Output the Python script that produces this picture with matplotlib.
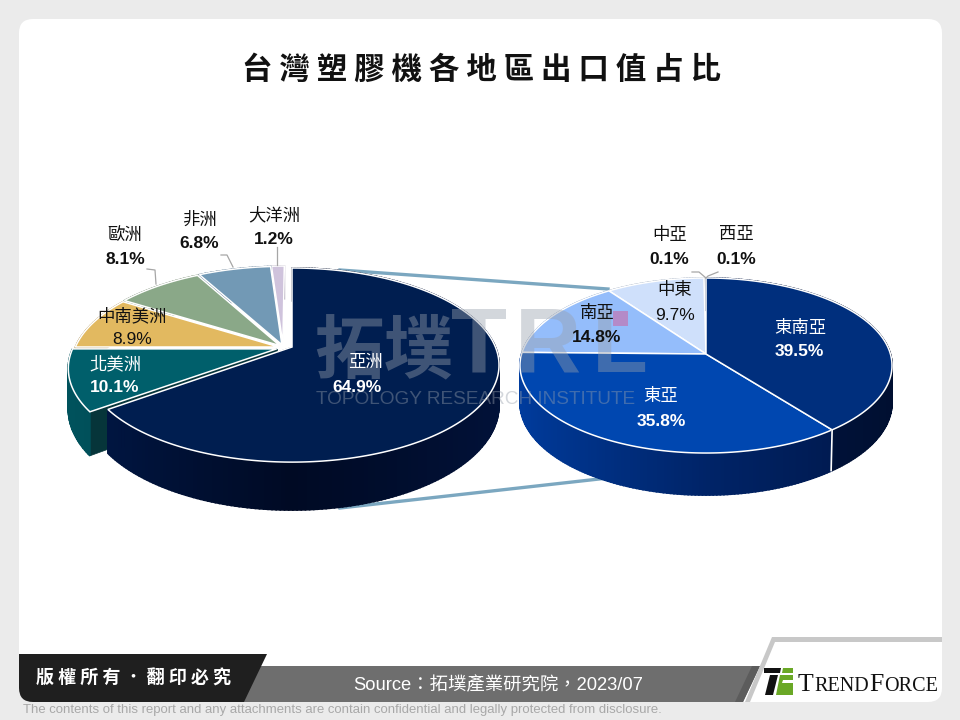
import matplotlib
matplotlib.use("Agg")
import matplotlib.pyplot as plt
import numpy as np
from matplotlib.patches import FancyBboxPatch, Polygon, Rectangle

CJK = ['Noto Sans CJK TC', 'Liberation Sans', 'DejaVu Sans']
LATIN = ['Liberation Sans', 'Noto Sans CJK TC']

title = '台 灣 塑 膠 機 各 地 區 出 口 值 占 比'

left_labels = ['亞洲', '北美洲', '中南美洲', '歐洲', '非洲', '大洋洲']
left_values = [64.9, 10.1, 8.9, 8.1, 6.8, 1.2]
right_labels = ['東南亞', '東亞', '南亞', '中東', '中亞', '西亞']
right_values = [39.5, 35.8, 14.8, 9.7, 0.1, 0.1]

left_colors = ['#001e50', '#005f6b', '#e2b960', '#8aa888', '#7299b5', '#cfc3dc']
left_walls = [('#001848', '#000a24', '#01123a'), ('#00525c', '#00414a', '#00363d'),
              ('#a88a48',) * 3, ('#64795f',) * 3, ('#52708a',) * 3, ('#9c92a8',) * 3]
right_colors = ['#002f7d', '#0047b0', '#94bdfb', '#cfe0fb', '#cfe0fb', '#cfe0fb']
right_walls = [('#00235e', '#001645', '#000f30'), ('#003c9e', '#002468', '#001544'),
               ('#6f8ebc',) * 3, ('#9aa8bc',) * 3, ('#9aa8bc',) * 3, ('#9aa8bc',) * 3]

# slice shifts on the unit disc, only the left pie is pulled apart
left_shift = [(0, 0), (-0.075, -0.02), (-0.065, 0.0), (-0.06, 0.015), (-0.05, 0.025), (-0.045, 0.03)]
right_shift = [(0, 0)] * 6

fig = plt.figure(figsize=(9.6, 7.2), dpi=100, facecolor='#ebebeb')
ax = fig.add_axes([0, 0, 1, 1])
ax.set_xlim(0, 960)
ax.set_ylim(720, 0)
ax.axis('off')


def project(x, y, pie):
    s = 1 / (1 + pie['k'] * y)
    return pie['cx'] + pie['R'] * x * s, pie['cy'] - pie['Ry'] * y * s, s


def shade(cols, x):
    rgb = np.array([matplotlib.colors.to_rgb(c) for c in cols])
    return [np.interp(x, [-1, 0, 1], rgb[:, i]) for i in range(3)]


def draw_pie(values, colors, walls, shift, pie, cut_slices):
    fr = np.cumsum([0] + values) / sum(values) * 2 * np.pi
    for i in range(len(values) - 1, -1, -1):
        dx, dy = shift[i]
        th = np.linspace(fr[i], fr[i + 1], max(3, int((fr[i + 1] - fr[i]) * 60)))
        ux, uy = np.sin(th) + dx, np.cos(th) + dy
        px, py, s = project(ux, uy, pie)
        ax0, ay0, s0 = project(dx, dy, pie)

        if i in cut_slices:
            for j in (0, -1):
                quad = [(ax0, ay0), (px[j], py[j]), (px[j], py[j] + pie['depth'] * s[j]),
                        (ax0, ay0 + pie['depth'] * s0)]
                ax.add_patch(Polygon(quad, fc=pie['cut'][i], ec=pie['cut'][i], lw=0.5, zorder=3))

        for j in range(len(th) - 1):
            c = shade(walls[i], ux[j])
            quad = [(px[j], py[j]), (px[j + 1], py[j + 1]),
                    (px[j + 1], py[j + 1] + pie['depth'] * s[j + 1]), (px[j], py[j] + pie['depth'] * s[j])]
            ax.add_patch(Polygon(quad, fc=c, ec=c, lw=1.2, zorder=3))

        if pie.get('seam') == i:
            ax.plot([px[-1], px[-1] - 1], [py[-1], py[-1] + pie['depth'] * s[-1]], color='white', lw=1.2, zorder=3)

        top = np.column_stack([np.r_[ax0, px], np.r_[ay0, py]])
        ax.add_patch(Polygon(top, fc=colors[i], ec='white', lw=1.1, zorder=3, joinstyle='miter'))


# page
panel = FancyBboxPatch((19, 19), 923, 683, boxstyle='round,pad=0,rounding_size=14', fc='white', ec='none', zorder=0)
ax.add_patch(panel)

# zoom connector lines
ax.plot([340, 608], [270, 289], color='#7ba7c0', lw=2.4, zorder=1)
ax.plot([340, 608], [508, 478], color='#7ba7c0', lw=2.4, zorder=1)

left_pie = dict(cx=292, cy=347, R=203.4, Ry=93.7, k=0.186, depth=39,
                cut={0: '#000e2e', 1: '#06353a'})
right_pie = dict(cx=706, cy=354, R=184.4, Ry=86, k=0.1315, depth=36.5, seam=0)
draw_pie(left_values, left_colors, left_walls, left_shift, left_pie, (1, 0))
draw_pie(right_values, right_colors, right_walls, right_shift, right_pie, ())

# watermark over the pies
wm = dict(color='#98a0ac', alpha=0.42, zorder=4, va='center', ha='left')
ax.text(314, 352, '拓墣', fontsize=50, fontweight='bold', family=CJK, **wm)
for x, s in [(451, 'T'), (515, 'R'), (592, 'L')]:
    ax.text(x, 348, s, fontsize=66, fontweight='bold', family=LATIN, **wm)
ax.text(316, 400, 'TOPOLOGY RESEARCH INSTITUTE', fontsize=13.7, family=LATIN, **wm)

ax.add_patch(Rectangle((613, 311), 15, 15, fc='#b48ac8', ec='none', zorder=5))

# leader lines
leaders = [([147, 155, 156], [269, 270, 284]), ([221, 227, 233], [255, 255, 267]),
           ([277, 277], [247, 265]), ([692, 699, 706], [272, 272, 278]),
           ([718, 708, 706], [272, 276, 278])]
for xs, ys in leaders:
    ax.plot(xs, ys, color='#a6a6a6', lw=0.9, zorder=5)

# pie labels
left_pos = [(365, 362), (115, 364), (132, 316), (125, 235), (199, 220), (274, 215)]
left_num_pos = [(357, 387), (115, 388), (132, 340), (125, 260), (199, 244), (274, 240)]
left_txt = ['white', 'white', '#111111', '#111111', '#111111', '#111111']
right_pos = [(800, 328), (661, 396), (597, 313), (675, 290), (670, 235), (736, 234)]
right_num_pos = [(799, 352), (661, 422), (597, 338), (675, 315), (669, 260), (736, 260)]
right_txt = ['white', 'white', '#111111', '#111111', '#111111', '#111111']
plain_nums = {'8.9', '9.7'}


def put_labels(labels, values, pos, num_pos, cols):
    for i in range(len(labels)):
        ax.text(pos[i][0], pos[i][1], labels[i], fontsize=12.5, color=cols[i], family=CJK,
                ha='center', va='center', zorder=6)
        v = '%.1f' % values[i]
        ax.text(num_pos[i][0], num_pos[i][1], v + '%', fontsize=12.5, color=cols[i], family=LATIN,
                fontweight='normal' if v in plain_nums else 'bold', ha='center', va='center', zorder=6)


put_labels(left_labels, left_values, left_pos, left_num_pos, left_txt)
put_labels(right_labels, right_values, right_pos, right_num_pos, right_txt)

ax.text(481, 70, title, fontsize=22, fontweight='bold', color='#111111', family=CJK,
        ha='center', va='center', zorder=6)

# footer
grey = Polygon([(250, 666), (760, 666), (743, 702), (235, 702)], fc='#6e6e6e', ec='none', zorder=2)
ax.add_patch(grey)
ax.add_patch(Polygon([(752, 666), (760, 666), (743, 702), (735, 702)], fc='#5c5c5c', ec='none', zorder=2))
dark = Polygon([(19, 654), (267, 654), (244, 702), (19, 702)], fc='#1f1f1f', ec='none', zorder=2)
ax.add_patch(dark)
dark.set_clip_path(panel)
ax.add_patch(Polygon([(772, 637), (942, 637), (942, 642), (775, 642), (750, 702), (745, 702)],
                     fc='#c8c8c8', ec='none', zorder=2))

ax.text(134, 678, '版 權 所 有 ． 翻 印 必 究', fontsize=13, fontweight='bold', color='white', family=CJK,
        ha='center', va='center', zorder=6)
ax.text(498, 685, 'Source：拓墣產業研究院，2023/07', fontsize=13.2, color='white', family=LATIN,
        ha='center', va='center', zorder=6)
ax.text(23, 710, 'The contents of this report and any attachments are contain confidential and legally protected from disclosure.',
        fontsize=9.45, color='#a8a8a8', family=LATIN, ha='left', va='center', zorder=6)

# logo
ax.add_patch(Polygon([(764, 668), (781, 668), (780, 673), (764, 673)], fc='#111111', ec='none', zorder=6))
ax.add_patch(Polygon([(770, 675), (778, 675), (773, 695), (765, 695)], fc='#111111', ec='none', zorder=6))
ax.add_patch(Polygon([(783, 668), (793, 668), (793, 673), (782, 673)], fc='#6aa826', ec='none', zorder=6))
ax.add_patch(Polygon([(780, 675), (793, 675), (793, 680), (783, 680), (782, 683), (793, 683), (793, 695), (776, 695)],
                     fc='#6aa826', ec='none', zorder=6))
for x, s, size in [(798, 'T', 18.5), (814, 'REND', 14.5), (869, 'F', 18.5), (884, 'ORCE', 14.5)]:
    ax.text(x, 691, s, fontsize=size, family=['Liberation Serif'], color='#111111', ha='left', va='baseline', zorder=6)

fig.savefig('out.png', dpi=100, facecolor=fig.get_facecolor())
